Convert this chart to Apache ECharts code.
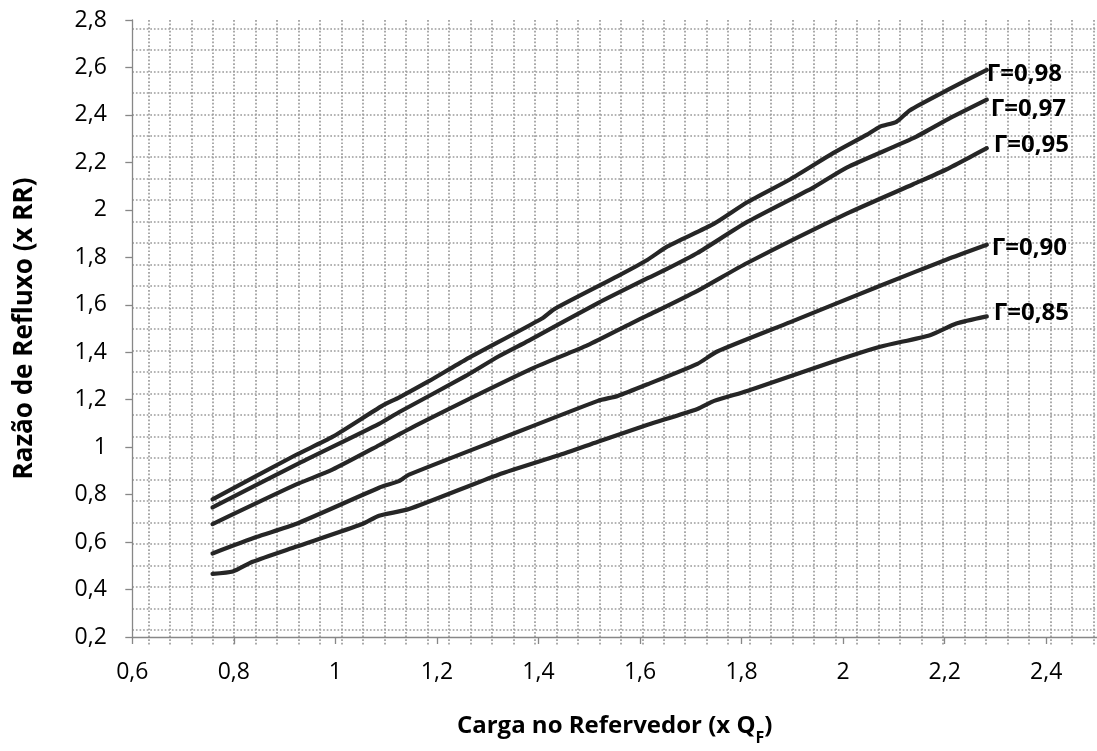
<!DOCTYPE html>
<html>
<head>
<meta charset="utf-8">
<script src="https://cdn.jsdelivr.net/npm/echarts@6/dist/echarts.min.js"></script>
<style>
html,body{margin:0;padding:0;background:#fff;}
#c{width:1097px;height:751px;}
</style>
</head>
<body>
<div id="c"></div>
<script>
// Data (x = Carga no Refervedor, y = Razão de Refluxo)
const x98 = [0.758,0.922,0.994,1.092,1.125,1.184,1.256,1.406,1.432,1.556,1.615,1.654,1.746,1.811,1.896,1.981,2.046,2.073,2.105,2.131,2.203,2.283];
const y98 = [0.780,0.967,1.043,1.174,1.209,1.278,1.368,1.541,1.583,1.721,1.790,1.846,1.942,2.032,2.129,2.240,2.316,2.351,2.371,2.419,2.502,2.590];
const x97 = [0.758,0.922,1.086,1.125,1.256,1.321,1.380,1.517,1.615,1.654,1.713,1.811,1.942,2.007,2.138,2.203,2.283];
const y97 = [0.746,0.925,1.098,1.147,1.299,1.382,1.448,1.607,1.712,1.752,1.818,1.949,2.095,2.178,2.302,2.378,2.464];
const x95 = [0.758,0.922,0.994,1.086,1.158,1.386,1.497,1.582,1.615,1.713,1.811,2.007,2.138,2.203,2.283];
const y95 = [0.676,0.842,0.905,1.008,1.091,1.330,1.430,1.521,1.555,1.659,1.776,1.984,2.108,2.170,2.260];
const x90 = [0.758,0.844,0.922,1.086,1.125,1.145,1.321,1.517,1.556,1.615,1.713,1.752,1.896,2.073,2.203,2.283];
const y90 = [0.552,0.621,0.676,0.829,0.857,0.884,1.032,1.195,1.216,1.265,1.351,1.403,1.527,1.680,1.790,1.853];
const x85 = [0.758,0.798,0.837,0.922,1.053,1.086,1.145,1.321,1.452,1.517,1.615,1.713,1.746,1.811,1.981,2.073,2.171,2.223,2.283];
const y85 = [0.466,0.476,0.517,0.580,0.676,0.711,0.739,0.884,0.974,1.023,1.094,1.161,1.195,1.237,1.361,1.423,1.472,1.521,1.551];
const seriesNames = ['Γ=0,98','Γ=0,97','Γ=0,95','Γ=0,90','Γ=0,85'];
const xTicks = {min:0.6, max:2.5, step:0.2};
const yTicks = {min:0.2, max:2.8, step:0.2};

const xsAll = [x98,x97,x95,x90,x85];
const ysAll = [y98,y97,y95,y90,y85];
const labelOffsets = [[0,4],[4,9],[7,-3],[5,3],[7,-3]];

const fmt = v => String(Math.round(v*10)/10).replace('.', ',');
const FONT = '"Open Sans", "Liberation Sans", sans-serif';
const dotted = {color:'#9c9c9c', width:1.7, type:[1.7,1.9]};

const chart = echarts.init(document.getElementById('c'), null, {renderer:'canvas'});
chart.setOption({
  animation:false,
  backgroundColor:'#fff',
  grid:[
    {left:132.3, right:-4.3, top:20, bottom:104.5},
    {left:132.3, right:0, top:28.3, bottom:121},
    {left:148.3, right:3.7, top:20, bottom:104.5}
  ],
  xAxis:[
    {type:'value', gridIndex:0, min:xTicks.min, max:xTicks.max, interval:xTicks.step,
     axisLine:{show:true, onZero:false, lineStyle:{color:'#878787', width:1.3}},
     axisTick:{show:true, length:7, lineStyle:{color:'#878787', width:1.3}},
     splitLine:{show:false},
     axisLabel:{formatter:fmt, color:'#000', fontFamily:FONT, fontSize:23, margin:23.5, showMaxLabel:false},
     name:'{a|Carga no Refervedor (x Q}{s|F}{a|)}', nameLocation:'middle', nameGap:69,
     nameTextStyle:{rich:{
       a:{fontFamily:FONT, fontWeight:'bold', fontSize:24, lineHeight:40, color:'#000'},
       s:{fontFamily:FONT, fontWeight:'bold', fontSize:16, lineHeight:16, color:'#000', verticalAlign:'bottom'}
     }}},
    {type:'value', gridIndex:1, min:0, max:1, show:false, splitLine:{show:false}},
    {type:'value', gridIndex:2, min:0, max:44, interval:1, axisLine:{show:false}, axisTick:{show:false}, axisLabel:{show:false},
     splitLine:{show:true, lineStyle:dotted}}
  ],
  yAxis:[
    {type:'value', gridIndex:0, min:yTicks.min, max:yTicks.max, interval:yTicks.step,
     axisLine:{show:true, onZero:false, lineStyle:{color:'#878787', width:1.3}},
     axisTick:{show:true, length:7, lineStyle:{color:'#878787', width:1.3}},
     splitLine:{show:false},
     axisLabel:{formatter:fmt, color:'#000', fontFamily:FONT, fontSize:23, margin:25.5},
     name:'Razão de Refluxo (x RR)', nameLocation:'middle', nameGap:94.5,
     nameTextStyle:{fontFamily:FONT, fontWeight:'bold', fontSize:26, color:'#000'}},
    {type:'value', gridIndex:1, min:0, max:28, interval:1, axisLine:{show:false}, axisTick:{show:false}, axisLabel:{show:false},
     splitLine:{show:true, lineStyle:dotted}},
    {type:'value', gridIndex:2, min:0, max:1, show:false, splitLine:{show:false}}
  ],
  series: seriesNames.map((name,i)=>({
    type:'line', name:name, xAxisIndex:0, yAxisIndex:0,
    data: xsAll[i].map((x,j)=>[x, ysAll[i][j]]),
    showSymbol:false, symbol:'none', smooth:0.2, z:5,
    lineStyle:{color:'#262626', width:4.2, cap:'round', join:'round'},
    endLabel:{show:true, formatter:name, distance:0, offset:labelOffsets[i],
      fontFamily:FONT, fontWeight:'bold', fontSize:24, color:'#000'}
  }))
});
</script>
</body>
</html>
